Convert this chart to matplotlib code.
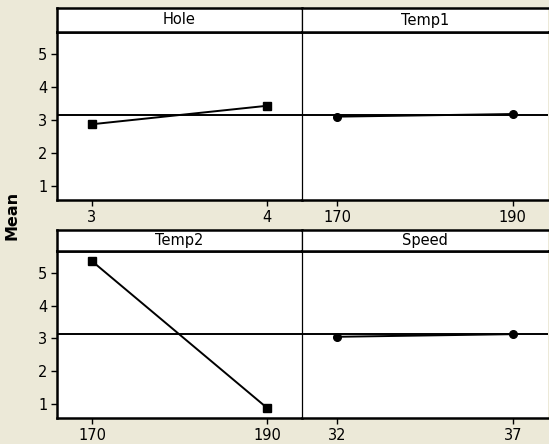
import matplotlib.pyplot as plt

# main effects values
factors = ['Hole', 'Temp1', 'Temp2', 'Speed']
levels = [[3, 4], [170, 190], [170, 190], [32, 37]]
means = [[2.87, 3.43], [3.10, 3.18], [5.36, 0.88], [3.05, 3.13]]
markers = ['s', 'o', 's', 'o']
grand_mean = 3.14
yticks = [1, 2, 3, 4, 5]

bg = '#ECE9D8'
W, H = 549, 444

fig = plt.figure(figsize=(W / 100, H / 100), dpi=100, facecolor=bg)
plt.rcParams['font.family'] = 'DejaVu Sans'

# pixel layout: (left, right) per column, (box top, strip bottom, plot bottom) per row
cols = [(57, 302), (302, 548)]
rows = [(8, 32, 200), (230, 251, 418)]

for i, name in enumerate(factors):
    r, c = divmod(i, 2)
    x0, x1 = cols[c]
    top, strip, bot = rows[r]

    ax = fig.add_axes([x0 / W, 1 - bot / H, (x1 - x0) / W, (bot - strip) / H])
    ax.set_facecolor('white')
    lo, hi = levels[i]
    pad = 0.2 * (hi - lo)
    ax.axhline(grand_mean, color='black', lw=1.4, zorder=1)
    ax.plot(levels[i], means[i], color='black', lw=1.4, marker=markers[i],
            ms=5.5, zorder=2)
    ax.set_xlim(lo - pad, hi + pad)
    ax.set_ylim(0.57, 5.67)
    ax.set_xticks(levels[i])
    ax.set_yticks(yticks)
    ax.tick_params(axis='both', direction='out', length=4, width=1,
                   labelsize=10.5, pad=3)
    ax.spines['right'].set_visible(False)
    ax.spines['top'].set_linewidth(1.8)
    ax.spines['bottom'].set_linewidth(1.8)
    if c == 0:
        ax.spines['left'].set_linewidth(1.8)
    else:
        ax.spines['left'].set_linewidth(0.9)
        ax.tick_params(axis='y', left=False, labelleft=False)

    # title strip
    sax = fig.add_axes([x0 / W, 1 - strip / H, (x1 - x0) / W, (strip - top) / H])
    sax.set_xticks([])
    sax.set_yticks([])
    sax.set_facecolor('white')
    sax.spines['top'].set_linewidth(1.8)
    sax.spines['bottom'].set_linewidth(1.8)
    sax.spines['left'].set_linewidth(1.8 if c == 0 else 0.9)
    sax.spines['right'].set_visible(c == 0)
    sax.spines['right'].set_linewidth(0.9)
    sax.text(0.5, 0.5, name, ha='center', va='center', fontsize=10.5)

fig.text(12 / W, 1 - 215 / H, 'Mean', rotation=90, ha='center', va='center',
         fontsize=11.5, fontweight='bold')

fig.savefig('out.png', dpi=100, facecolor=bg)
